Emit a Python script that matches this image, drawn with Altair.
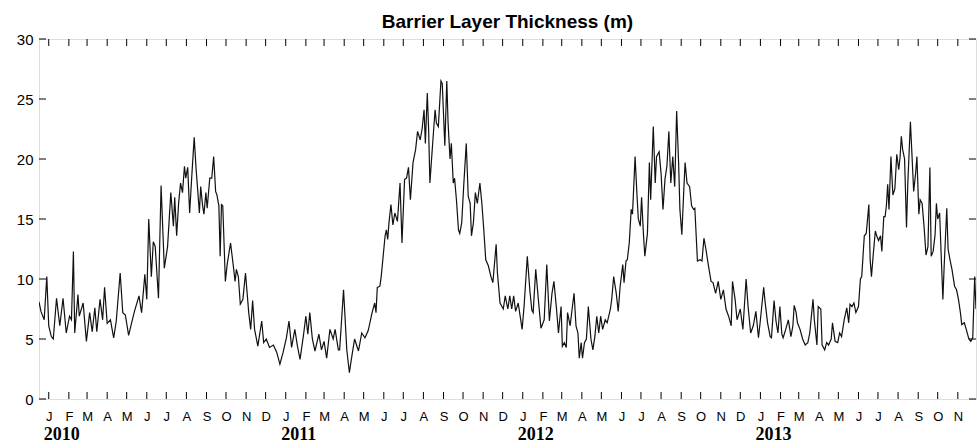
import altair as alt
import pandas as pd

# Barrier layer thickness (m), sampled on days counted from 2010-01-01
day = [
    0, 3, 8, 12, 15, 19, 22, 27, 32, 37, 42, 47, 50, 53, 55, 60, 62, 68, 73, 78,
    82, 86, 89, 94, 98, 101, 105, 110, 115, 119, 125, 129, 133, 138, 142, 147, 154, 158, 163, 166,
    169, 173, 176, 179, 184, 188, 193, 198, 203, 207, 209, 212, 215, 218, 221, 224, 226, 229, 232, 235,
    239, 242, 244, 247, 249, 252, 254, 257, 259, 263, 266, 269, 272, 274, 277, 279, 281, 283, 287, 290,
    295, 299, 302, 304, 307, 310, 314, 318, 323, 326, 329, 332, 337, 343, 346, 350, 355, 361, 366, 371,
    376, 381, 385, 389, 394, 398, 402, 407, 411, 414, 417, 421, 425, 431, 435, 439, 443, 448, 453, 456,
    461, 463, 469, 474, 478, 481, 486, 492, 497, 502, 507, 513, 517, 519, 521, 525, 527, 530, 533, 535,
    537, 539, 542, 545, 548, 552, 556, 559, 563, 566, 569, 572, 576, 580, 583, 587, 590, 593, 595, 598,
    600, 602, 606, 610, 612, 615, 619, 621, 625, 628, 630, 633, 635, 638, 640, 643, 646, 648, 651, 654,
    658, 661, 664, 666, 669, 672, 675, 679, 682, 685, 688, 692, 696, 699, 704, 706, 710, 715, 718, 722,
    725, 728, 731, 734, 738, 741, 744, 747, 752, 756, 759, 761, 765, 769, 773, 778, 782, 786, 790, 793,
    797, 800, 804, 806, 809, 812, 814, 818, 821, 824, 827, 830, 832, 835, 837, 840, 843, 846, 850, 853,
    856, 859, 862, 865, 868, 872, 875, 880, 882, 885, 889, 892, 895, 899, 901, 904, 906, 909, 912, 914,
    918, 921, 923, 926, 928, 931, 933, 937, 940, 942, 946, 949, 951, 955, 958, 961, 964, 967, 970, 973,
    976, 979, 982, 985, 987, 990, 993, 995, 998, 1002, 1005, 1008, 1010, 1014, 1018, 1021, 1024, 1027, 1031, 1035,
    1038, 1042, 1046, 1050, 1054, 1058, 1062, 1066, 1068, 1072, 1075, 1080, 1084, 1089, 1092, 1096, 1100, 1104, 1108, 1111,
    1116, 1118, 1122, 1126, 1128, 1132, 1135, 1138, 1141, 1144, 1146, 1150, 1154, 1158, 1161, 1163, 1166, 1168, 1172, 1176,
    1180, 1184, 1187, 1192, 1194, 1198, 1200, 1204, 1206, 1210, 1213, 1216, 1220, 1222, 1226, 1230, 1233, 1236, 1240, 1244,
    1247, 1249, 1252, 1255, 1258, 1262, 1265, 1267, 1271, 1274, 1278, 1280, 1282, 1285, 1288, 1290, 1293, 1296, 1298, 1301,
    1303, 1305, 1307, 1309, 1312, 1315, 1318, 1321, 1324, 1326, 1328, 1330, 1333, 1336, 1338, 1342, 1344, 1347, 1350, 1352,
    1355, 1357, 1360, 1363, 1366, 1369, 1372, 1374, 1377, 1380, 1382, 1384, 1387, 1390, 1392, 1394, 1398, 1400, 1403, 1406,
    1410, 1413, 1416, 1419, 1421, 1425, 1428, 1432, 1435, 1438, 1441, 1443,
]
blt = [
    8.1, 7.3, 6.6, 10.2, 6.1, 5.2, 5.0, 8.4, 6.1, 8.4, 5.5, 6.9, 6.6, 12.3, 5.5, 8.7, 6.9, 8.0, 4.8, 7.2,
    5.6, 7.6, 5.6, 8.3, 6.6, 9.3, 6.3, 6.6, 5.1, 6.5, 10.5, 7.2, 7.0, 5.3, 6.2, 7.3, 8.6, 7.2, 10.4, 8.3,
    15.0, 10.2, 13.1, 12.7, 8.4, 17.8, 10.9, 12.7, 17.2, 14.4, 16.8, 13.6, 16.3, 18.0, 17.2, 19.4, 18.4, 19.3, 15.5, 18.3,
    21.8, 19.1, 17.7, 15.5, 17.7, 16.1, 15.4, 17.2, 15.9, 18.4, 18.4, 20.2, 17.3, 17.0, 16.1, 11.9, 16.2, 16.1, 9.8, 11.3,
    13.0, 11.2, 9.8, 10.8, 10.2, 7.9, 8.3, 10.5, 7.2, 5.8, 8.2, 5.8, 4.4, 6.5, 4.7, 5.0, 4.3, 4.5, 3.9, 2.9,
    3.9, 5.1, 6.5, 4.3, 5.8, 4.4, 3.3, 5.2, 6.9, 5.4, 7.2, 5.0, 4.0, 5.4, 4.1, 4.8, 3.4, 5.8, 5.0, 5.8,
    4.1, 4.1, 9.1, 4.1, 2.2, 3.3, 5.0, 4.0, 5.5, 5.1, 5.7, 7.2, 8.0, 7.2, 9.3, 9.4, 10.2, 11.9, 13.6, 14.1,
    13.3, 14.7, 16.2, 14.5, 15.5, 14.8, 18.0, 13.0, 18.3, 18.4, 19.3, 16.6, 19.7, 20.8, 22.3, 21.6, 22.5, 24.1, 21.3, 25.5,
    22.5, 18.0, 21.1, 24.1, 23.0, 22.7, 26.5, 26.3, 21.1, 26.5, 23.0, 20.0, 21.3, 18.0, 18.4, 16.5, 14.1, 13.8, 14.7, 17.7,
    21.3, 16.9, 16.3, 13.6, 14.7, 17.2, 16.3, 18.0, 16.3, 14.1, 11.6, 11.1, 10.2, 9.7, 12.9, 10.5, 8.0, 7.5, 8.6, 7.5,
    8.6, 7.5, 8.6, 7.3, 8.0, 6.9, 5.8, 7.7, 11.9, 9.0, 7.4, 7.2, 10.8, 8.3, 5.9, 6.6, 11.2, 6.5, 8.8, 9.8,
    7.5, 5.5, 7.7, 4.4, 4.7, 4.3, 7.2, 6.1, 7.5, 8.8, 6.1, 5.5, 3.4, 4.7, 3.4, 4.7, 5.0, 7.7, 5.0, 4.1,
    5.2, 6.9, 5.5, 6.9, 5.8, 6.6, 6.35, 7.5, 8.3, 10.2, 8.8, 7.3, 9.4, 11.2, 9.7, 11.5, 11.6, 13.0, 15.8, 15.4,
    20.2, 16.9, 15.0, 14.4, 16.8, 13.6, 11.9, 13.8, 19.7, 16.6, 22.7, 18.0, 20.2, 20.6, 18.8, 15.8, 18.3, 19.4, 22.3, 18.0,
    20.2, 17.7, 24.0, 19.7, 15.8, 13.7, 17.4, 19.7, 18.0, 17.7, 16.1, 15.8, 15.9, 11.5, 11.6, 11.5, 13.4, 12.5, 11.1, 9.8,
    9.7, 8.8, 9.8, 8.3, 9.1, 7.5, 6.9, 6.1, 9.8, 8.3, 6.6, 7.5, 5.8, 10.0, 7.7, 5.5, 6.1, 7.3, 5.1, 6.6,
    9.3, 8.2, 6.35, 5.2, 5.1, 8.2, 6.5, 5.5, 7.7, 5.4, 5.1, 5.8, 6.6, 5.2, 6.1, 7.8, 7.2, 6.35, 5.8, 5.0,
    4.5, 4.7, 5.5, 8.3, 6.6, 4.5, 7.7, 7.5, 4.5, 4.1, 4.7, 4.5, 5.0, 6.35, 4.8, 4.7, 5.5, 5.2, 6.6, 7.6,
    6.35, 7.9, 7.7, 8.0, 7.2, 7.7, 10.0, 10.2, 13.6, 13.8, 16.2, 11.6, 10.2, 12.2, 14.0, 13.6, 13.2, 13.6, 12.3, 15.2,
    15.2, 16.1, 17.9, 15.8, 20.2, 17.0, 17.5, 20.4, 19.1, 20.1, 21.9, 20.8, 20.0, 14.3, 18.0, 23.1, 20.8, 17.3, 18.8, 20.2,
    15.4, 16.6, 16.3, 14.4, 12.0, 12.7, 19.3, 11.9, 12.3, 13.7, 16.3, 15.0, 15.5, 11.1, 8.3, 11.1, 15.9, 12.5, 11.6, 10.8,
    9.4, 9.1, 8.3, 7.2, 6.2, 6.35, 5.8, 5.0, 4.8, 5.1, 10.2, 7.5,
]
assert len(day) == len(blt)

title_text = "Barrier Layer Thickness (m)"
month_letters = ["J", "F", "M", "A", "M", "J", "J", "A", "S", "O", "N", "D"]
years = [2010, 2011, 2012, 2013]
y_ticks = [0, 5, 10, 15, 20, 25, 30]
last_day = 1443

W, H = 937, 360
TICK = 7

start = pd.Timestamp("2010-01-01")
# month ticks sit in the middle of each month
mid_month = [(pd.Timestamp(y, m, 16) - start).days for y in years for m in range(1, 13)]
mid_month = [d for d in mid_month if d <= last_day]
year_pos = [(pd.Timestamp(y, 2, 5) - start).days for y in years]

series = pd.DataFrame({"day": day, "blt": blt})
xticks = pd.DataFrame({"day": mid_month})
yticks = pd.DataFrame({"blt": y_ticks})
year_df = pd.DataFrame({"day": year_pos, "year": [str(y) for y in years]})
title_df = pd.DataFrame({"label": [title_text]})

x_scale = alt.Scale(domain=[0, last_day], nice=False, zero=False)
y_scale = alt.Scale(domain=[0, 30], nice=False)

letters_js = "[" + ",".join("'%s'" % m for m in month_letters) + "]"

x_axis = alt.Axis(
    values=mid_month,
    labelExpr=letters_js + "[floor(datum.value / 30.4375) % 12]",
    ticks=False, tickSize=0, domain=False, grid=False, title=None,
    labelFont="Liberation Sans", labelFontSize=13, labelColor="black",
    labelPadding=11, labelOverlap=False, labelFlush=False,
)
y_axis = alt.Axis(
    values=y_ticks, ticks=False, tickSize=0, domain=False, grid=False, title=None,
    labelFont="Liberation Sans", labelFontSize=15, labelColor="black",
    labelPadding=6, labelFlush=False,
)


def xq(field="day"):
    return alt.X(f"{field}:Q", scale=x_scale, axis=x_axis)


def yq(field="blt"):
    return alt.Y(f"{field}:Q", scale=y_scale, axis=y_axis)


line = alt.Chart(series).mark_line(color="#111111", strokeWidth=1.2, clip=True).encode(
    x=xq(), y=yq()
)

# inward tick marks on all four sides of the box
tick_style = dict(color="black", strokeWidth=1)
y_left = alt.Chart(yticks).mark_rule(**tick_style).encode(
    y=yq(), x=alt.value(0), x2=alt.value(TICK))
y_right = alt.Chart(yticks).mark_rule(**tick_style).encode(
    y=yq(), x=alt.value(W - TICK), x2=alt.value(W))
x_bottom = alt.Chart(xticks).mark_rule(**tick_style).encode(
    x=xq(), y=alt.value(H - TICK), y2=alt.value(H))
x_top = alt.Chart(xticks).mark_rule(**tick_style).encode(
    x=xq(), y=alt.value(0), y2=alt.value(TICK))

year_labels = alt.Chart(year_df).mark_text(
    font="Liberation Serif", fontWeight="bold", fontSize=18, color="black",
    align="center", baseline="alphabetic",
).encode(x=xq(), y=alt.value(H + 41), text="year:N")

title = alt.Chart(title_df).mark_text(
    font="Liberation Sans", fontWeight="bold", fontSize=19, color="black",
    align="center", baseline="alphabetic",
).encode(x=alt.value(W / 2), y=alt.value(-11), text="label:N")

chart = alt.layer(line, y_left, y_right, x_bottom, x_top, year_labels, title).properties(
    width=W,
    height=H,
    autosize="none",
    padding={"left": 39, "top": 39, "right": 3, "bottom": 47},
).configure_view(stroke="black", strokeWidth=1).configure(background="white")

chart.save("out.html", embed_options={"renderer": "svg", "actions": False})
